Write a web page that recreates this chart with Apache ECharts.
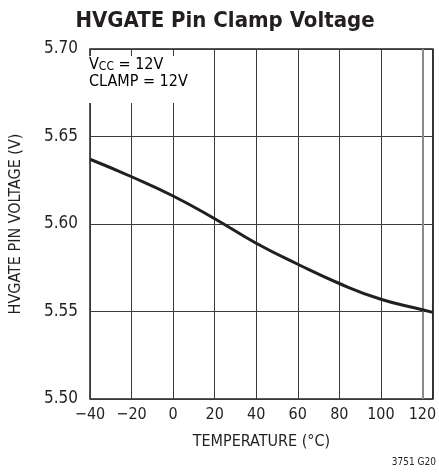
<!DOCTYPE html>
<html><head><meta charset="utf-8">
<script src="https://cdn.jsdelivr.net/npm/echarts@6/dist/echarts.min.js"></script>
<style>html,body{margin:0;padding:0;background:#fff}#c{width:439px;height:472px}</style>
</head><body><div id="c"></div>
<script>
const temperatures = [-40, -20, 0, 20, 40, 60, 80, 100, 120, 125];
const voltages = [5.637, 5.627, 5.616, 5.603, 5.589, 5.577, 5.566, 5.557, 5.551, 5.5495];
const xTicks = [-40, -20, 0, 20, 40, 60, 80, 100, 120];
const yTicks = ['5.50', '5.55', '5.60', '5.65', '5.70'];

const FONT = "'DejaVu Sans Condensed', 'Liberation Sans Narrow', 'Liberation Sans', sans-serif";
const chart = echarts.init(document.getElementById('c'), null, {renderer: 'canvas'});
chart.setOption({
  animation: false,
  backgroundColor: '#fff',
  title: {
    text: 'HVGATE Pin Clamp Voltage', left: 220, textAlign: 'center', top: 5,
    textStyle: {fontFamily: FONT, fontWeight: 'bold', fontSize: 22, color: '#231f20'}
  },
  grid: {left: 84, right: 5, top: 49, bottom: 73, show: true, borderColor: '#231f20', borderWidth: 1.5, backgroundColor: 'transparent'},
  xAxis: {
    type: 'value', min: -40, max: 125, interval: 20,
    name: 'TEMPERATURE (°C)', nameLocation: 'middle', nameGap: 35,
    nameTextStyle: {fontFamily: FONT, fontSize: 16, color: '#231f20'},
    axisLine: {show: false}, axisTick: {show: false},
    axisLabel: {fontFamily: FONT, fontSize: 16, color: '#231f20', margin: 8,
      formatter: v => xTicks.includes(v) ? String(v).replace('-', '\u2212') : ''},
    splitLine: {show: true, lineStyle: {color: '#3a3a3a', width: 1}}
  },
  yAxis: {
    type: 'value', min: 5.5, max: 5.7, interval: 0.05,
    name: 'HVGATE PIN VOLTAGE (V)', nameLocation: 'middle', nameGap: 66,
    nameTextStyle: {fontFamily: FONT, fontSize: 16, color: '#231f20'},
    axisLine: {show: false}, axisTick: {show: false},
    axisLabel: {fontFamily: FONT, fontSize: 17, color: '#231f20', margin: 12,
      formatter: v => { const s = v.toFixed(2); return yTicks.includes(s) ? s : ''; }},
    splitLine: {show: true, lineStyle: {color: '#3a3a3a', width: 1}}
  },
  series: [{
    type: 'line', smooth: true, showSymbol: false,
    data: temperatures.map((t, i) => [t, voltages[i]]),
    lineStyle: {color: '#231f20', width: 3},
    z: 5,
    markLine: {
      silent: true, symbol: 'none', label: {show: false},
      lineStyle: {color: '#8c8c8c', type: 'solid', width: 2},
      data: [{xAxis: 120}], z: 3
    }
  }],
  graphic: [
    {type: 'rect', shape: {x: 85, y: 56, width: 116, height: 47}, style: {fill: '#fff'}, z: 10},
    {type: 'text', left: 89, top: 55, z: 11, style: {
      text: '{a|V}{s|CC}{a| = 12V}\n{a|CLAMP = 12V}',
      rich: {
        a: {fontFamily: FONT, fontSize: 16, color: '#231f20', lineHeight: 17},
        s: {fontFamily: FONT, fontSize: 12, color: '#231f20', verticalAlign: 'bottom', padding: [6, 0, 0, 0], lineHeight: 17}
      }
    }},
    {type: 'text', right: 3, top: 457, z: 11, style: {text: '3751 G20', fontFamily: FONT, fontSize: 10, fill: '#231f20'}}
  ]
});
</script></body></html>
